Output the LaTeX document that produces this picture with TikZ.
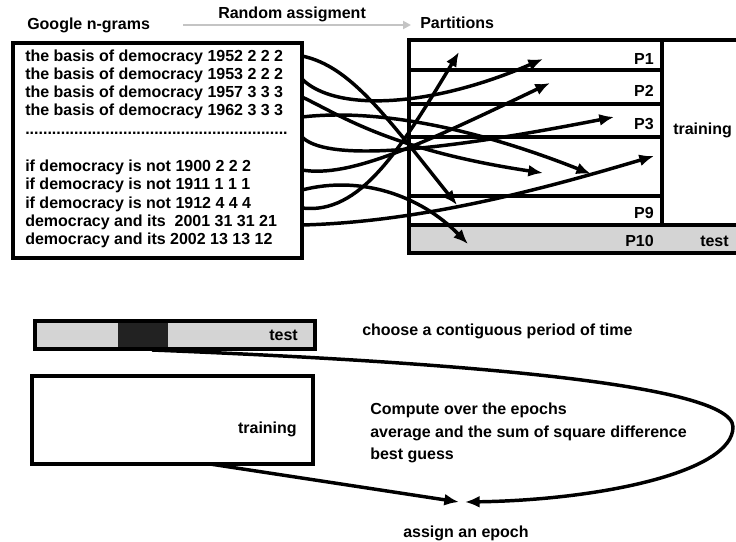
\documentclass[tikz,border=0pt]{standalone}
\usepackage{fontspec}
\setmainfont{Liberation Sans}
\usetikzlibrary{arrows.meta,positioning,calc}
\definecolor{testgray}{HTML}{D4D4D4}
\definecolor{slotblack}{HTML}{222222}
\definecolor{assigngray}{HTML}{C4C4C4}

\begin{document}
\begin{tikzpicture}[
  x=0.75pt, y=-0.75pt,
  font=\fontsize{12}{14}\selectfont\bfseries,
  txt/.style={anchor=base west, inner sep=0pt},
  rtxt/.style={anchor=base east, inner sep=0pt},
  frame/.style={rectangle, draw=black, line width=2.6pt, inner sep=0pt},
  bar/.style={line width=2.6pt, black},
  a/.style={-{Latex[length=11pt,width=9pt]}, line width=2.6pt, black},
  assign/.style={-{Triangle[length=6pt,width=6pt]}, line width=1.8pt, assigngray},
]
\useasboundingbox (0,0) rectangle (736,542);
\fill[white] (0,0) rectangle (736,542);
% ---------------- headings
\node[txt] (hgoogle) at (27,29.5) {Google n-grams};
\node[txt] (hrandom) at (218,19) {Random assigment};
\node[txt] (hparts) at (420,29) {Partitions};
\coordinate (ra0) at (183,25);
\coordinate (ra1) at (411,25);
\draw[assign] (ra0) -- (ra1);
% ---------------- n-gram list
\node[frame, minimum width=216.75pt, minimum height=161.25pt] (ngrams) at (157.5,150.5) {};
\foreach \t [count=\i] in {the basis of democracy 1952 2 2 2,the basis of democracy 1953 2 2 2,the basis of democracy 1957 3 3 3,the basis of democracy 1962 3 3 3}
  \node[txt] (ng\i) at (25,43.5+18*\i) {\t};
\node[txt] (dots) at (25,135) {...........................................................};
\foreach \t [count=\i] in {if democracy is not 1900 2 2 2,if democracy is not 1911 1 1 1,if democracy is not 1912 4 4 4,democracy and its\ \ 2001 31 31 21,democracy and its 2002 13 13 12}
  \node[txt] (ngb\i) at (25,153.2+18.3*\i) {\t};
% ---------------- partitions
\fill[testgray] (409,225) rectangle (736,253);
\draw[bar] (736,40) -- (409,40) -- (409,253) -- (736,253);
\draw[bar] (662,40) -- (662,225);
\foreach \y in {70,104,137,196} \draw[bar] (409,\y) -- (662,\y);
\draw[bar] (409,225) -- (736,225);
\node[rtxt] (p1) at (654,65) {P1};
\node[rtxt] (p2) at (654,97) {P2};
\node[rtxt] (p3) at (654,130) {P3};
\node[rtxt] (p9) at (654,218) {P9};
\node[rtxt] (p10) at (654,246) {P10};
\node[txt] (trainlab) at (673,135) {training};
\node[txt] (testlab) at (700,246) {test};
% ---------------- random assignment of the n-grams
\foreach \n/\y in {1/56,2/79,3/97,4/117,5/137,6/170,7/190,8/208,9/225}
  \coordinate (s\n) at (302,\y);
\coordinate (t1) at (457,205);
\coordinate (t2) at (543,59);
\coordinate (t3) at (543,173);
\coordinate (t4) at (591,174);
\coordinate (t5) at (614,117);
\coordinate (t6) at (550,83);
\coordinate (t7) at (468,244);
\coordinate (t8) at (459,52);
\coordinate (t9) at (654,156);
\draw[a] (s1) .. controls (350,66) and (385,115) .. (t1);
\draw[a] (s2) .. controls (335,112) and (430,108) .. (t2);
\draw[a] (s3) .. controls (340,115) and (390,150) .. (t3);
\draw[a] (s4) .. controls (380,108) and (480,130) .. (t4);
\draw[a] (s5) .. controls (325,160) and (420,155) .. (t5);
\draw[a] (s6) .. controls (350,178) and (420,145) .. (t6);
\draw[a] (s7) .. controls (360,175) and (420,195) .. (t7);
\draw[a] (s8) .. controls (360,215) and (400,150) .. (t8);
\draw[a] (s9) .. controls (420,222) and (540,190) .. (t9);
% ---------------- test period and training set
\node[frame, fill=testgray, minimum width=210pt, minimum height=21pt] (testbar) at (175,335) {};
\node[fill=slotblack, minimum width=37.5pt, minimum height=18.5pt, inner sep=0pt] (slot) at (143,335) {};
\node[rtxt] (testtxt) at (298,340) {test};
\node[frame, minimum width=210.75pt, minimum height=66pt] (trainbox) at (172.5,420) {};
\node[rtxt] (traintxt) at (297,433) {training};
\node[txt] (choose) at (362,335) {choose a contiguous period of time};
\node[txt] (compute) at (370,414) {Compute over the epochs};
\node[txt] (average) at (370,437) {average and the sum of square difference};
\node[txt] (best) at (370,459) {best guess};
\node[txt] (assignep) at (403,537) {assign an epoch};
% ---------------- to the epoch
\coordinate (slotout) at (152,350);
\coordinate (trainout) at (210,464);
\coordinate (epochL) at (459,502);
\coordinate (epochR) at (465,502);
\draw[a] (slotout) .. controls (400,360) and (733,380) .. (733,427)
  .. controls (733,472) and (600,500) .. (epochR);
\draw[a] (trainout) -- (epochL);
\end{tikzpicture}
\end{document}
